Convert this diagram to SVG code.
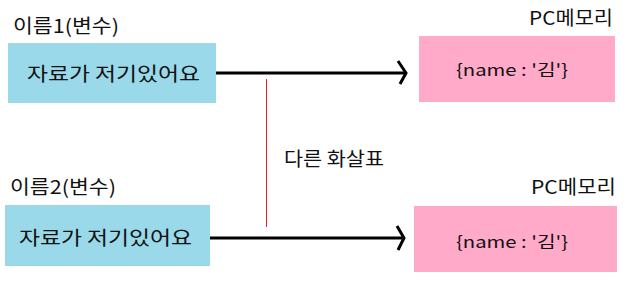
<svg xmlns="http://www.w3.org/2000/svg" width="635" height="288" viewBox="0 0 635 288">
<style>
text{font-family:"Noto Sans CJK KR","Noto Sans",sans-serif;fill:#111}
.var{fill:#99d9ea}
.mem{fill:#ffaac9}
.lbl{font-size:19px}
.box{font-size:19.5px}
.obj{font-size:16.5px}
.conn{stroke:#000;stroke-width:3;fill:none}
</style>
<rect width="635" height="288" fill="#fff"/>
<g id="var1">
<text class="lbl" x="13" y="33" textLength="106" lengthAdjust="spacingAndGlyphs">이름1(변수)</text>
<rect class="var" x="8" y="43" width="208" height="60"/>
<text class="box" x="27" y="81" textLength="173" lengthAdjust="spacingAndGlyphs">자료가 저기있어요</text>
</g>
<g id="mem1">
<text class="lbl" x="529" y="25" textLength="84" lengthAdjust="spacingAndGlyphs">PC메모리</text>
<rect class="mem" x="419" y="36" width="196" height="66"/>
<text class="obj" x="456" y="76" textLength="112" lengthAdjust="spacingAndGlyphs">{name : '김'}</text>
</g>
<g id="var2">
<text class="lbl" x="10" y="194" textLength="106" lengthAdjust="spacingAndGlyphs">이름2(변수)</text>
<rect class="var" x="5" y="205" width="205" height="61"/>
<text class="box" x="19" y="245" textLength="173" lengthAdjust="spacingAndGlyphs">자료가 저기있어요</text>
</g>
<g id="mem2">
<text class="lbl" x="531" y="194" textLength="85" lengthAdjust="spacingAndGlyphs">PC메모리</text>
<rect class="mem" x="414" y="206" width="203" height="66"/>
<text class="obj" x="456" y="248" textLength="112" lengthAdjust="spacingAndGlyphs">{name : '김'}</text>
</g>
<g id="connectors">
<line class="conn" x1="216" y1="73" x2="405" y2="73"/>
<polyline class="conn" points="398,61 406,73 400,84"/>
<line class="conn" x1="210" y1="238" x2="402" y2="238"/>
<polyline class="conn" points="397,226 404,238 398,250"/>
<line x1="266.5" y1="79" x2="266.5" y2="227" stroke="#ed1c24" stroke-width="1"/>
<text class="lbl" x="284" y="166" textLength="100" lengthAdjust="spacingAndGlyphs">다른 화살표</text>
</g>
</svg>
